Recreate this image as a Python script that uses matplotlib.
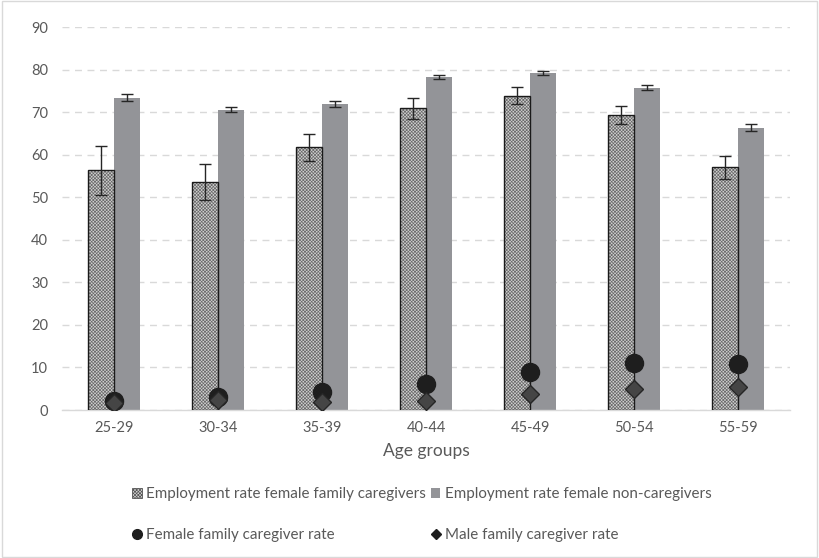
import matplotlib
matplotlib.use("Agg")
import matplotlib.pyplot as plt
from matplotlib.lines import Line2D
from matplotlib.patches import Patch, Rectangle
import numpy as np

plt.rcParams['font.family'] = ['Lato', 'DejaVu Sans']

age_groups = ["25-29", "30-34", "35-39", "40-44", "45-49", "50-54", "55-59"]
emp_caregivers = [56.3, 53.5, 61.7, 70.9, 73.9, 69.4, 57.0]
emp_caregivers_err = [5.8, 4.2, 3.2, 2.4, 2.1, 2.1, 2.6]
emp_noncaregivers = [73.4, 70.6, 71.9, 78.2, 79.2, 75.7, 66.3]
emp_noncaregivers_err = [0.8, 0.6, 0.6, 0.5, 0.5, 0.6, 0.8]
female_cg_rate = [2.2, 3.1, 4.3, 6.0, 8.9, 11.0, 10.8]
male_cg_rate = [1.6, 2.3, 1.9, 2.1, 3.7, 4.9, 5.4]

text_col = '#595959'
plt.rcParams['hatch.linewidth'] = 0.5

fig = plt.figure(figsize=(8.19, 5.58), dpi=100)
ax = fig.add_axes([0.0757, 0.2652, 0.889, 0.6864])

x = np.arange(len(age_groups))
w = 0.25

# caregiver bars: hatched fill + black outline
ax.bar(x - w/2, emp_caregivers, w, color='#d0d0d0', hatch='xxxxxxxxxx',
       edgecolor='#6a6a6a', linewidth=0, zorder=2)
ax.bar(x - w/2, emp_caregivers, w, fill=False, edgecolor='#1a1a1a', linewidth=1.0, zorder=3)
ax.errorbar(x - w/2, emp_caregivers, yerr=emp_caregivers_err, fmt='none',
            ecolor='#262626', elinewidth=1.0, capsize=4, capthick=1.0, zorder=4)

ax.bar(x + w/2, emp_noncaregivers, w, color='#939498', edgecolor='none', zorder=2)
ax.errorbar(x + w/2, emp_noncaregivers, yerr=emp_noncaregivers_err, fmt='none',
            ecolor='#262626', elinewidth=1.0, capsize=4, capthick=1.0, zorder=4)

ax.plot(x, female_cg_rate, linestyle='none', marker='o', markersize=13,
        color='#1e1e1e', zorder=5)
ax.plot(x, male_cg_rate, linestyle='none', marker='D', markersize=9,
        color='#454545', markeredgecolor='#262626', zorder=6)

ax.set_xlim(-0.5, len(age_groups) - 0.5)
ax.set_ylim(0, 90)
ax.set_yticks(np.arange(0, 91, 10))
ax.set_xticks(x)
ax.set_xticklabels(age_groups)
ax.yaxis.grid(True, linestyle=(0, (5, 4)), color='#d9d9d9', linewidth=1.0)
ax.set_axisbelow(True)
for s in ['top', 'right', 'left']:
    ax.spines[s].set_visible(False)
ax.spines['bottom'].set_color('#d9d9d9')
ax.spines['bottom'].set_linewidth(1.0)
ax.tick_params(axis='both', length=0, colors=text_col, labelsize=10.5)
ax.tick_params(axis='x', pad=8)
ax.tick_params(axis='y', pad=10)
ax.set_xlabel('Age groups', color=text_col, fontsize=12.5, labelpad=6)

handles = [
    Patch(facecolor='#d0d0d0', hatch='xxxxxxxxxx', edgecolor='#555555', linewidth=0.6,
          label='Employment rate female family caregivers'),
    Patch(facecolor='#939498', edgecolor='none', label='Employment rate female non-caregivers'),
    Line2D([], [], linestyle='none', marker='o', markersize=7, color='#1e1e1e',
           label='Female family caregiver rate'),
    Line2D([], [], linestyle='none', marker='D', markersize=5, color='#1e1e1e',
           label='Male family caregiver rate'),
]
order = [handles[0], handles[2], handles[1], handles[3]]
leg = fig.legend(handles=order, loc='center', bbox_to_anchor=(0.515, 0.078), ncol=2,
                 frameon=False, fontsize=10.9, labelcolor=text_col,
                 handlelength=0.65, handleheight=0.65, handletextpad=0.3,
                 columnspacing=0.3, labelspacing=1.75)

fig.patches.append(Rectangle((0.002, 0.002), 0.996, 0.996, transform=fig.transFigure,
                             fill=False, edgecolor='#d9d9d9', linewidth=1.0))

fig.savefig('out.png', dpi=100)
